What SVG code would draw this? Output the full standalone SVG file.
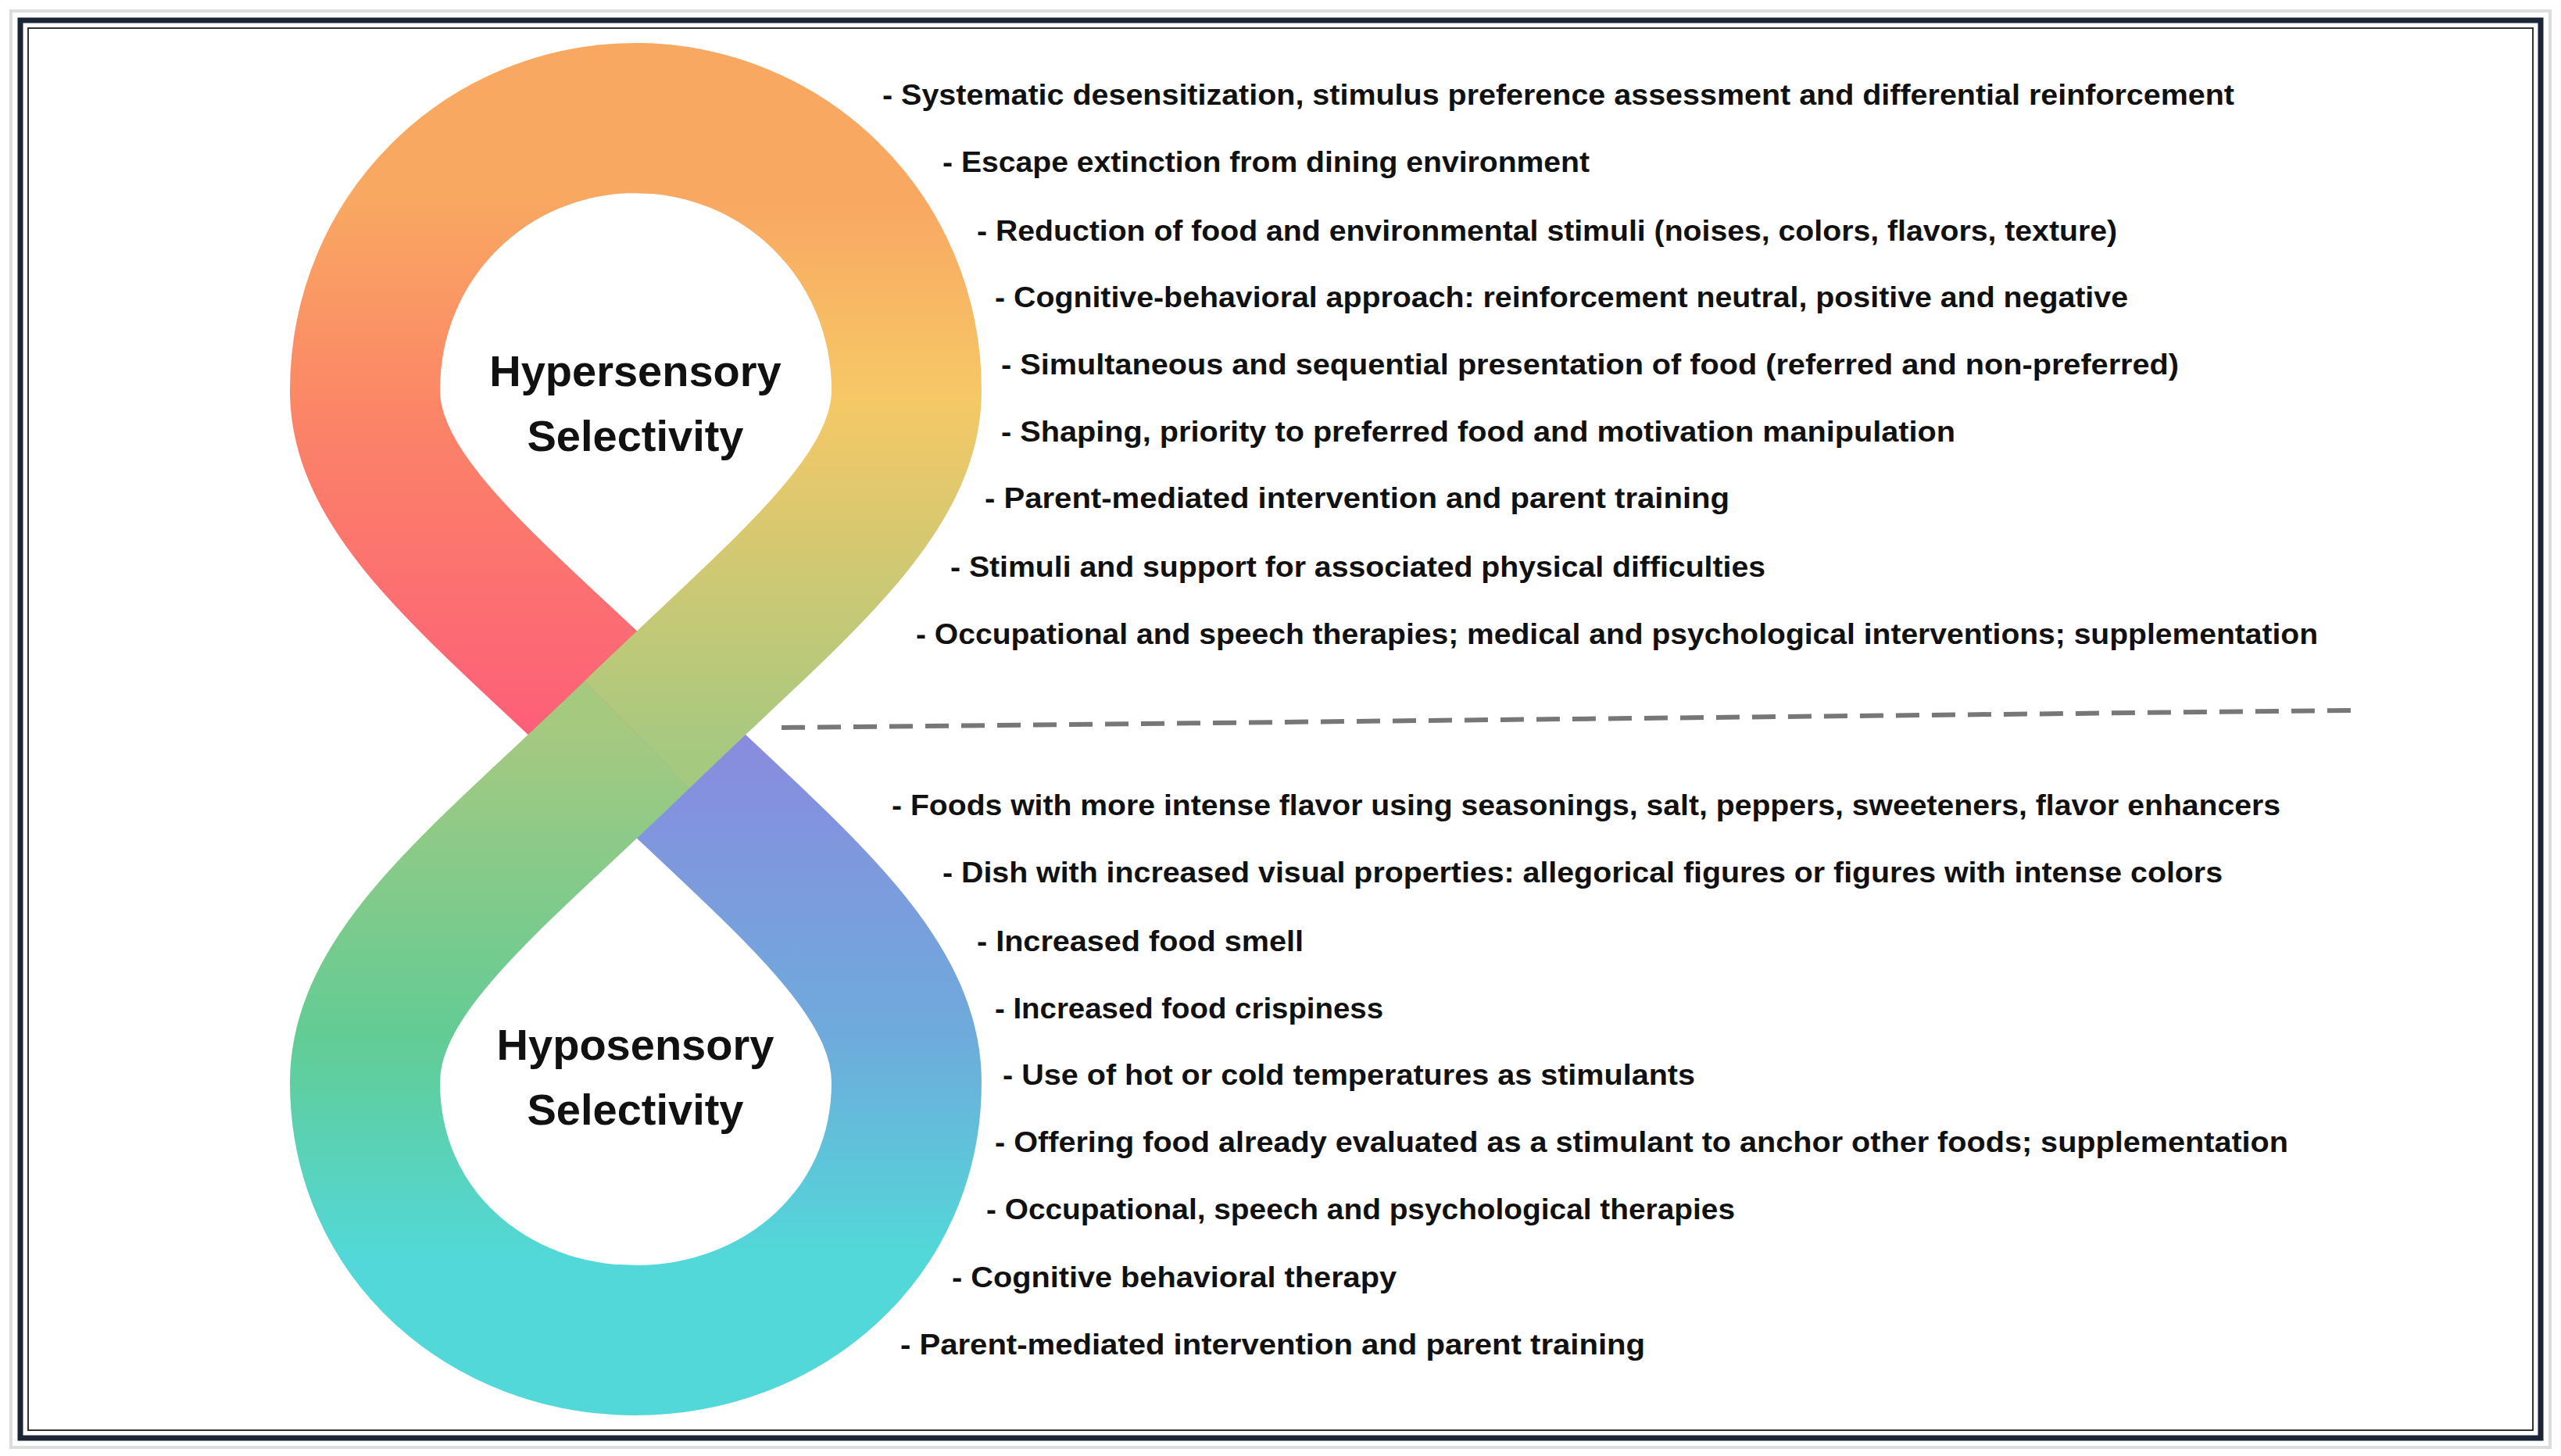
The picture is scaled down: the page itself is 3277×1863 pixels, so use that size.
<svg xmlns="http://www.w3.org/2000/svg" width="3277" height="1863" viewBox="0 0 3277 1863">
<style>
.t{font-family:"Liberation Sans",Arial,sans-serif;font-weight:bold;font-size:36px;fill:#111}
.h{font-family:"Liberation Sans",Arial,sans-serif;font-weight:bold;font-size:56px;fill:#111;text-anchor:middle}
.band{fill:none;stroke-width:192;stroke-linecap:butt}
</style>
<defs>
<linearGradient id="gTL" gradientUnits="userSpaceOnUse" x1="0" y1="940" x2="0" y2="60"><stop offset="0" stop-color="#fd5f79"/><stop offset="0.45" stop-color="#fb8367"/><stop offset="0.78" stop-color="#f9a862"/><stop offset="1" stop-color="#f9a862"/></linearGradient>
<linearGradient id="gTR" gradientUnits="userSpaceOnUse" x1="0" y1="60" x2="0" y2="960"><stop offset="0" stop-color="#f9a862"/><stop offset="0.22" stop-color="#f9a862"/><stop offset="0.5" stop-color="#f6c866"/><stop offset="1" stop-color="#a6c980"/></linearGradient>
<linearGradient id="gBR" gradientUnits="userSpaceOnUse" x1="0" y1="930" x2="0" y2="1810"><stop offset="0" stop-color="#8a8ade"/><stop offset="0.45" stop-color="#6eabdc"/><stop offset="0.77" stop-color="#52d8d8"/><stop offset="1" stop-color="#52d8d8"/></linearGradient>
<linearGradient id="gBL" gradientUnits="userSpaceOnUse" x1="0" y1="1810" x2="0" y2="930"><stop offset="0" stop-color="#52d8d8"/><stop offset="0.23" stop-color="#52d8d8"/><stop offset="0.55" stop-color="#62cc94"/><stop offset="1" stop-color="#a6c980"/></linearGradient>
</defs>
<rect x="0" y="0" width="3277" height="1863" fill="#fff"/>
<rect x="14" y="14" width="3249" height="1838" fill="none" stroke="#dcdcdc" stroke-width="4"/>
<rect x="26" y="26" width="3225" height="1814" fill="none" stroke="#1b2535" stroke-width="7"/>
<rect x="36" y="36" width="3205" height="1794" fill="none" stroke="#333" stroke-width="2"/>
<g id="figure8">
<path class="band" stroke="url(#gTL)" d="M815 940 C630 760 467 640 467 500 C467 300 626 151 813 151 L840 152"/>
<path class="band" stroke="url(#gBR)" d="M815 940 C1000 1120 1160 1240 1160 1385 C1160 1580 1000 1715 813 1715 L786 1714"/>
<path class="band" stroke="url(#gTR)" d="M813 151 C1000 151 1160 300 1160 500 C1160 640 1000 760 815 940"/>
<path class="band" stroke="url(#gBL)" d="M813 1715 C626 1715 467 1580 467 1385 C467 1240 630 1120 815 940"/>
</g>
<g id="hyper"><text class="h" x="813" y="494">Hypersensory</text><text class="h" x="813" y="577">Selectivity</text></g>
<g id="hypo"><text class="h" x="813" y="1356">Hyposensory</text><text class="h" x="813" y="1439">Selectivity</text></g>
<g id="connectors"><line x1="1000" y1="931" x2="3010" y2="909" stroke="#777" stroke-width="6" stroke-dasharray="30 16"/></g>
<g id="hyper-list">
<text class="t" x="1129" y="134" textLength="1730" lengthAdjust="spacingAndGlyphs">-  Systematic desensitization, stimulus preference assessment and differential reinforcement</text>
<text class="t" x="1206" y="220" textLength="828" lengthAdjust="spacingAndGlyphs">- Escape extinction from dining environment</text>
<text class="t" x="1250" y="308" textLength="1459" lengthAdjust="spacingAndGlyphs">- Reduction of food and environmental stimuli (noises, colors, flavors, texture)</text>
<text class="t" x="1273" y="393" textLength="1450" lengthAdjust="spacingAndGlyphs">- Cognitive-behavioral approach: reinforcement neutral, positive and negative</text>
<text class="t" x="1281" y="479" textLength="1507" lengthAdjust="spacingAndGlyphs">- Simultaneous and sequential presentation of food (referred and non-preferred)</text>
<text class="t" x="1281" y="565" textLength="1221" lengthAdjust="spacingAndGlyphs">- Shaping, priority to preferred food and motivation manipulation</text>
<text class="t" x="1260" y="650" textLength="953" lengthAdjust="spacingAndGlyphs">- Parent-mediated intervention and parent training</text>
<text class="t" x="1216" y="738" textLength="1043" lengthAdjust="spacingAndGlyphs">- Stimuli and support for associated physical difficulties</text>
<text class="t" x="1172" y="824" textLength="1794" lengthAdjust="spacingAndGlyphs">- Occupational and speech therapies; medical and psychological interventions; supplementation</text>
</g>
<g id="hypo-list">
<text class="t" x="1141" y="1043" textLength="1777" lengthAdjust="spacingAndGlyphs">- Foods with more intense flavor using seasonings, salt, peppers, sweeteners, flavor enhancers</text>
<text class="t" x="1206" y="1129" textLength="1638" lengthAdjust="spacingAndGlyphs">- Dish with increased visual properties: allegorical figures or figures with intense colors</text>
<text class="t" x="1250" y="1217" textLength="418" lengthAdjust="spacingAndGlyphs">- Increased food smell</text>
<text class="t" x="1273" y="1303" textLength="497" lengthAdjust="spacingAndGlyphs">- Increased food crispiness</text>
<text class="t" x="1283" y="1388" textLength="886" lengthAdjust="spacingAndGlyphs">- Use of hot or cold temperatures as stimulants</text>
<text class="t" x="1273" y="1474" textLength="1655" lengthAdjust="spacingAndGlyphs">- Offering food already evaluated as a stimulant to anchor other foods; supplementation</text>
<text class="t" x="1262" y="1560" textLength="958" lengthAdjust="spacingAndGlyphs">- Occupational, speech and psychological therapies</text>
<text class="t" x="1218" y="1647" textLength="569" lengthAdjust="spacingAndGlyphs">- Cognitive behavioral therapy</text>
<text class="t" x="1152" y="1733" textLength="953" lengthAdjust="spacingAndGlyphs">- Parent-mediated intervention and parent training</text>
</g>
</svg>
